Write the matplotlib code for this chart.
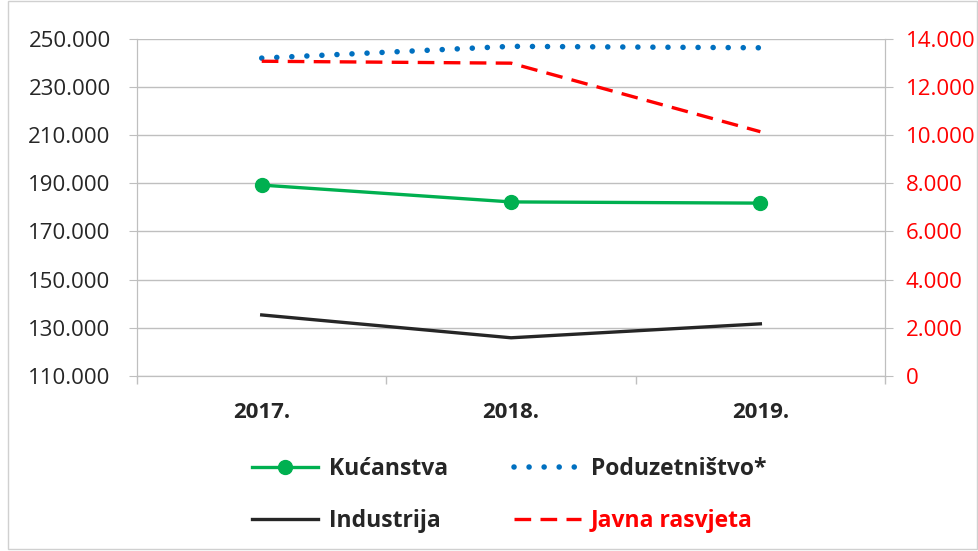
import matplotlib.pyplot as plt
from matplotlib.lines import Line2D
from matplotlib.ticker import FuncFormatter

plt.rcParams['font.family'] = ['Open Sans', 'DejaVu Sans']

years = ['2017.', '2018.', '2019.']
kucanstva = [189300, 182300, 181800]
poduzetnistvo = [242100, 247000, 246400]
industrija = [135300, 125800, 131600]
javna_rasvjeta = [13080, 13000, 10150]

green = '#00B050'
blue = '#0070C0'
red = '#FF0000'
black = '#262626'
grid = '#BFBFBF'


def dotted(v, pos):
    return '{:,.0f}'.format(v).replace(',', '.')


fig = plt.figure(figsize=(9.79, 5.51), dpi=100)
ax = fig.add_axes([0.140, 0.318, 0.764, 0.611])
ax2 = ax.twinx()

x = range(len(years))
ax.plot(x, kucanstva, color=green, lw=2.4, marker='o', ms=10, zorder=3)
ax.plot(x, industrija, color=black, lw=2.4, zorder=3)
ax.plot(x, poduzetnistvo, color=blue, lw=4.0, linestyle=(0, (0.01, 2.7)),
        dash_capstyle='round', zorder=4)
ax2.plot(x, javna_rasvjeta, color=red, lw=2.4, linestyle=(0, (5.0, 2.8)),
         dash_capstyle='butt', zorder=2)

ax.set_xlim(-0.5, 2.5)
ax.set_ylim(110000, 250000)
ax.set_yticks(range(110000, 250001, 20000))
ax2.set_ylim(0, 14000)
ax2.set_yticks(range(0, 14001, 2000))
ax.yaxis.set_major_formatter(FuncFormatter(dotted))
ax2.yaxis.set_major_formatter(FuncFormatter(dotted))

ax.set_xticks(list(x))
ax.set_xticklabels(years, fontweight='bold', fontsize=16, color=black)
ax.set_xticks([-0.5, 0.5, 1.5, 2.5], minor=True)
ax.tick_params(axis='x', which='major', length=0, pad=19)
ax.tick_params(axis='x', which='minor', length=6, color=grid, width=1)
ax.tick_params(axis='y', length=6, color=grid, labelsize=16, labelcolor=black, pad=13)
ax2.tick_params(axis='y', length=6, color=grid, labelsize=16, labelcolor=red, pad=9)

ax.grid(axis='y', color=grid, lw=1)
for a in (ax, ax2):
    a.spines['top'].set_visible(False)
    a.spines['left'].set_color(grid)
    a.spines['right'].set_color(grid)
    a.spines['bottom'].set_color(grid)

handles = [
    Line2D([], [], color=green, lw=2.4, marker='o', ms=10),
    Line2D([], [], color=black, lw=2.4),
    Line2D([], [], color=blue, lw=4.0, linestyle=(0, (0.01, 2.7)), dash_capstyle='round'),
    Line2D([], [], color=red, lw=2.4, linestyle=(0, (5.0, 2.8)), dash_capstyle='butt'),
]
labels = ['Kućanstva', 'Industrija', 'Poduzetništvo*', 'Javna rasvjeta']
leg = fig.legend(handles, labels, ncol=2, loc='center', bbox_to_anchor=(0.52, 0.102),
                 frameon=False, handlelength=2.9, handletextpad=0.45,
                 columnspacing=2.9, labelspacing=1.2, borderpad=0,
                 prop={'size': 16.5, 'weight': 'bold'})
for t in leg.get_texts():
    t.set_color(black)
leg.get_texts()[3].set_color(red)

fig.patches.append(plt.Rectangle((0.008, 0.004), 0.99, 0.995, transform=fig.transFigure,
                                 fill=False, edgecolor='#D0D0D0', lw=1))

fig.savefig('out.png', dpi=100)
